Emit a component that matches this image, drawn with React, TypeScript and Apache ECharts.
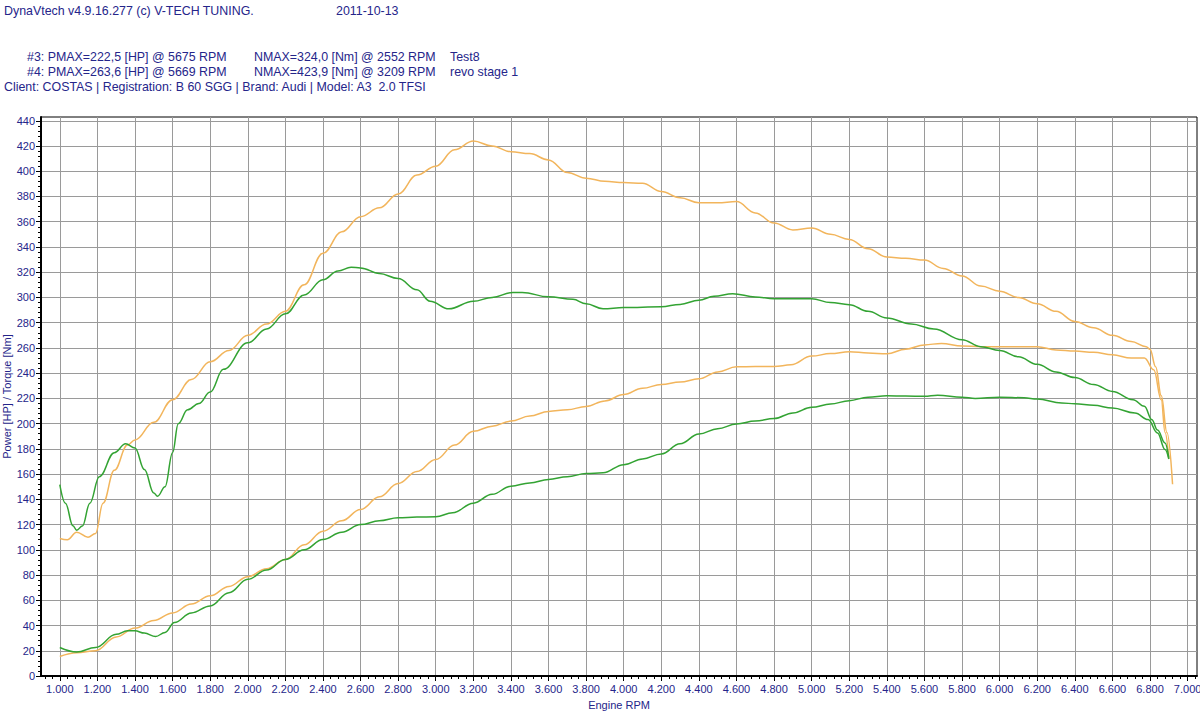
import React, { useEffect, useRef } from "react";
import * as echarts from "echarts";

// ---- Data ----
// #4 revo stage 1 (orange)
const torque4Rpm = [1000,1040,1090,1150,1190,1230,1290,1360,1400,1500,1600,1700,1800,1900,2000,2100,2200,2300,2400,2500,2600,2700,2800,2900,3000,3100,3200,3300,3400,3500,3600,3700,3800,3900,4000,4100,4200,4300,4400,4500,4600,4700,4800,4900,5000,5100,5200,5300,5400,5500,5600,5700,5800,5900,6000,6100,6200,6300,6400,6500,6600,6700,6780,6800,6830,6860,6890,6920];
const torque4 = [109,108,114,110,113,137,163,183,187,201,219,235,249,258,270,279,289,310,335,352,364,371,382,397,404,417,423.9,420,415.5,414,409,399,394.5,392,391,390.5,384,379,375,375,376,367,359,353.5,355,350,346,338.6,332,331,329.6,323,317,309,305,300,295,289,281,276,270,265,261,259,245,222,193,152];
const power4Rpm = [1000,1090,1190,1300,1400,1500,1600,1700,1800,1900,2000,2100,2200,2300,2400,2500,2600,2700,2800,2900,3000,3100,3200,3300,3400,3500,3600,3700,3800,3900,4000,4100,4200,4300,4400,4500,4600,4700,4800,4890,5000,5100,5200,5300,5400,5500,5600,5690,5800,5900,6000,6100,6200,6300,6400,6500,6600,6700,6770,6820,6860,6880,6900];
const power4 = [15.5,18.5,20,31,38,44,50,57,63.5,71,78.7,85,92.4,104,114.8,123,132,142,152.5,162,171.5,183,193.9,198,202,206,209.7,211,213.6,218,223,228,231,233,235.5,241,245,245.3,245.3,246.6,253.5,255.5,257,256,255.3,259,262.4,263.6,261.5,261,261,261,261,258.4,257.5,256.5,254.5,252,252,242.6,219,193,172];

// #3 Test8 (green)
const torque3Rpm = [1000,1030,1070,1090,1120,1160,1210,1290,1350,1400,1450,1500,1520,1560,1600,1630,1680,1740,1800,1870,2000,2100,2200,2300,2400,2480,2550,2600,2700,2800,2900,2970,3070,3200,3300,3410,3460,3600,3730,3800,3890,4000,4200,4300,4400,4480,4580,4700,4800,5000,5100,5200,5300,5400,5530,5650,5800,5900,6000,6100,6200,6300,6400,6500,6600,6710,6770,6810,6840,6880,6900];
const torque3 = [151.7,137,119,115.6,118.8,137,158,177,184,180.7,163.6,145,142.5,150,177,200,211,216,225,243,264,275,287,302,314,321,324,323.4,319,315,306,297,291,297,300,304,304,300.5,298.5,295,291,292,292.6,294.5,297.8,301,303,300.4,299,299,296,294.3,289,283.7,279,275,266.5,261,258,253,247,241,236.5,231,225.5,219,213.7,203,195,184.7,173];
const power3Rpm = [1000,1090,1190,1300,1360,1400,1450,1510,1560,1610,1700,1800,1900,2000,2100,2200,2300,2400,2500,2600,2700,2800,2900,3000,3090,3200,3300,3400,3500,3600,3700,3800,3890,4000,4100,4200,4300,4400,4500,4600,4700,4800,4900,5000,5100,5200,5300,5400,5500,5600,5670,5800,5870,6000,6130,6200,6330,6400,6500,6600,6720,6790,6840,6880,6900];
const power3 = [22.6,19,22.6,33,35.8,35.8,34,31.3,34.5,42.4,50,55.5,66,76.6,84,92.4,100,108.2,114,120,123,125.4,126,126.2,129.3,137,144,150.4,153,155.7,158,160.4,161,167.5,172,176,184,191.8,196,199.7,202,204,208.5,212.9,215.5,218.2,221,222,221.8,221.6,222.5,221,220,221,220.5,219.5,216.3,215.8,214.5,212.4,208.4,203.2,192.6,179.5,172];

// Tick values
const xTicks = [1000,1200,1400,1600,1800,2000,2200,2400,2600,2800,3000,3200,3400,3600,3800,4000,4200,4400,4600,4800,5000,5200,5400,5600,5800,6000,6200,6400,6600,6800,7000];
const yTicks = [0,20,40,60,80,100,120,140,160,180,200,220,240,260,280,300,320,340,360,380,400,420,440];

// Header texts
const headerTitle = "DynaVtech v4.9.16.277 (c) V-TECH TUNING.";
const headerDate = "2011-10-13";
const run3 = ["#3: PMAX=222,5 [HP] @ 5675 RPM", "NMAX=324,0 [Nm] @ 2552 RPM", "Test8"];
const run4 = ["#4: PMAX=263,6 [HP] @ 5669 RPM", "NMAX=423,9 [Nm] @ 3209 RPM", "revo stage 1"];
const clientLine = "Client: COSTAS | Registration: B 60 SGG | Brand: Audi | Model: A3  2.0 TFSI";

const X_MIN = 900;
const X_MAX = 7050;
const Y_MAX = 443;

const xMinor: number[] = [];
for (let v = 920; v <= 7040; v += 40) xMinor.push(v);
const yMinor: number[] = [];
for (let v = 0; v <= 440; v += 4) yMinor.push(v);

const zip = (a: number[], b: number[]) => a.map((x, i) => [x, b[i]]);

const NAVY = "#25258a";
const ORANGE = "#f2b55c";
const GREEN = "#33a333";
const FONT = "Liberation Sans, Arial, sans-serif";

export default function App() {
  const ref = useRef<HTMLDivElement>(null);
  useEffect(() => {
    document.body.style.margin = "0";
    const chart = echarts.init(ref.current!, null, { renderer: "svg" });
    const txt = (text: string, x: number, y: number) => ({
      type: "text",
      x,
      y,
      style: { text, fill: NAVY, font: `12.4px ${FONT}`, textVerticalAlign: "middle" },
    });
    const line = (name: string, data: number[][], color: string) => ({
      name,
      type: "line",
      data,
      showSymbol: false,
      symbol: "none",
      smooth: 0.4,
      smoothMonotone: "x",
      lineStyle: { color, width: 1.5 },
      z: 5,
    });
    chart.setOption({
      animation: false,
      backgroundColor: "#ffffff",
      textStyle: { fontFamily: FONT },
      grid: {
        left: 41,
        right: 3,
        top: 117,
        bottom: 37,
        show: true,
        borderColor: "#000",
        borderWidth: 1,
        backgroundColor: "#ffffff",
        outerBoundsMode: "none",
      },
      graphic: [
        txt(headerTitle, 4, 11),
        txt(headerDate, 336, 11),
        txt(run3[0], 27, 57),
        txt(run3[1], 254, 57),
        txt(run3[2], 450, 57),
        txt(run4[0], 27, 72),
        txt(run4[1], 254, 72),
        txt(run4[2], 450, 72),
        txt(clientLine, 4, 87),
      ],
      xAxis: [
        {
          type: "value",
          min: X_MIN,
          max: X_MAX,
          name: "Engine RPM",
          nameLocation: "middle",
          nameGap: 23,
          nameMoveOverlap: false,
          nameTextStyle: { color: NAVY, fontSize: 11, fontFamily: FONT },
          axisLine: { show: true, onZero: false, lineStyle: { color: "#000", width: 2 } },
          axisTick: { show: true, length: 5, customValues: xTicks, lineStyle: { color: "#000" } },
          axisLabel: {
            customValues: xTicks,
            color: NAVY,
            fontSize: 11,
            fontFamily: FONT,
            margin: 7,
            formatter: (v: number) => (v / 1000).toFixed(3),
          },
          splitLine: { show: true, lineStyle: { color: "#9a9a9a", width: 1 } },
        },
        {
          type: "value",
          min: X_MIN,
          max: X_MAX,
          position: "bottom",
          axisLine: { show: false },
          axisTick: { show: true, length: 3, customValues: xMinor, lineStyle: { color: "#000" } },
          axisLabel: { show: false },
          splitLine: { show: false },
        },
      ],
      yAxis: [
        {
          type: "value",
          min: 0,
          max: Y_MAX,
          name: "Power [HP] / Torque [Nm]",
          nameLocation: "middle",
          nameGap: 29,
          nameMoveOverlap: false,
          nameTextStyle: { color: NAVY, fontSize: 11, fontFamily: FONT },
          axisLine: { show: true, onZero: false, lineStyle: { color: "#000", width: 2 } },
          axisTick: { show: true, length: 5, customValues: yTicks, lineStyle: { color: "#000" } },
          axisLabel: { customValues: yTicks, color: NAVY, fontSize: 11, fontFamily: FONT, margin: 6 },
          splitLine: { show: true, lineStyle: { color: "#9a9a9a", width: 1 } },
        },
        {
          type: "value",
          min: 0,
          max: Y_MAX,
          position: "left",
          axisLine: { show: false },
          axisTick: { show: true, length: 3, customValues: yMinor, lineStyle: { color: "#000" } },
          axisLabel: { show: false },
          splitLine: { show: false },
        },
      ],
      series: [
        line("#4 Torque", zip(torque4Rpm, torque4), ORANGE),
        line("#4 Power", zip(power4Rpm, power4), ORANGE),
        line("#3 Torque", zip(torque3Rpm, torque3), GREEN),
        line("#3 Power", zip(power3Rpm, power3), GREEN),
      ],
    });
    return () => chart.dispose();
  }, []);
  return <div ref={ref} style={{ width: 1200, height: 713 }} />;
}
